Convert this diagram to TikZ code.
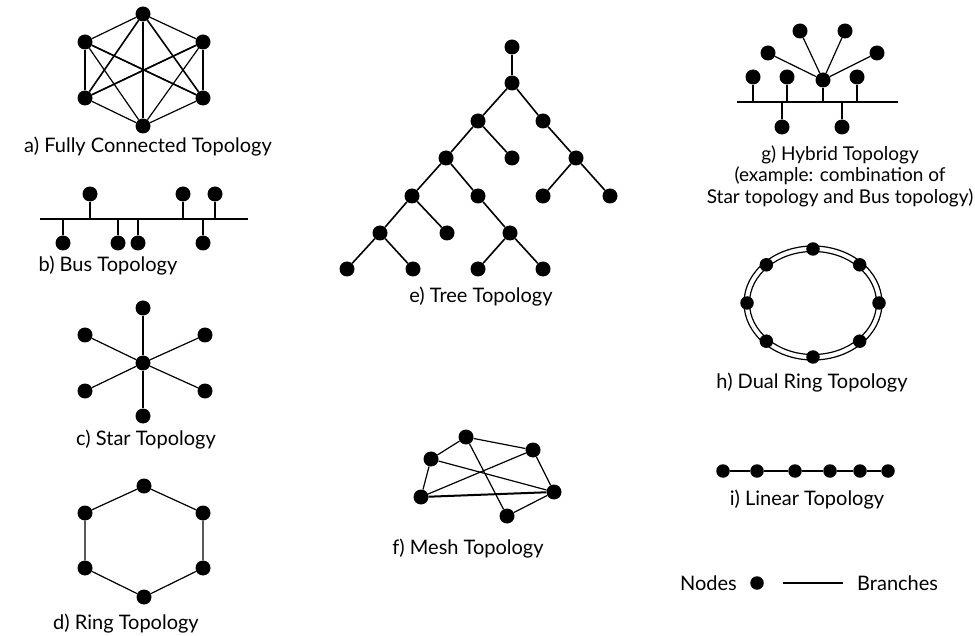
\documentclass[tikz,border=0pt]{standalone}
\usepackage{fontspec}
\setmainfont{Lato}
\begin{document}
\begin{tikzpicture}[x=1pt,y=-1pt,
  dot/.style={circle,fill=black,inner sep=0pt,minimum size=15pt},
  sdot/.style={dot,minimum size=13.5pt},
  link/.style={line width=1.2pt},
  mid/.style={line width=1.6pt},
  heavy/.style={line width=2.6pt},
  lbl/.style={font=\fontsize{20}{21.5}\selectfont,inner sep=0pt,align=center}]
\useasboundingbox[fill=white] (0,0) rectangle (975,636);

% a) fully connected hexagon
\node[dot] (fa) at (143,14) {};
\node[dot] (fb) at (203,42) {};
\node[dot] (fc) at (203,98) {};
\node[dot] (fd) at (143,126) {};
\node[dot] (fe) at (85,98) {};
\node[dot] (ff) at (85,42) {};
\foreach \u/\v in {fa/fb,fb/fc,fc/fd,fd/fe,fe/ff,ff/fa,fb/fe,ff/fc,fb/fd,fd/ff}
  \draw[link] (\u) -- (\v);
\foreach \u/\v in {fa/fc,fa/fe,ff/fc,fe/fb}
  \draw[mid] (\u) -- (\v);
\draw[heavy] (fa) -- (fd);
\node[lbl] (la) at (148,147) {a) Fully Connected Topology};

% b) bus
\coordinate (busL) at (40,219);
\coordinate (busR) at (248,219);
\draw[line width=2pt] (busL) -- (busR);
\node[dot] (bu1) at (90,194) {};
\node[dot] (bu2) at (183,194) {};
\node[dot] (bu3) at (215,194) {};
\node[dot] (bl1) at (63,243) {};
\node[dot] (bl2) at (118,243) {};
\node[dot] (bl3) at (138,243) {};
\node[dot] (bl4) at (203,243) {};
\foreach \n in {bu1,bu2,bu3,bl1,bl2,bl3,bl4}
  \draw[mid] (\n) -- (\n |- busL);
\node[lbl] (lb) at (108,266) {b) Bus Topology};

% c) star
\node[dot] (sc) at (143,363) {};
\node[dot] (sa) at (143,308) {};
\node[dot] (sg) at (143,416) {};
\node[dot] (sb) at (205,335) {};
\node[dot] (sd) at (205,391) {};
\node[dot] (se) at (85,391) {};
\node[dot] (sf) at (85,335) {};
\draw[heavy] (sa) -- (sc) -- (sg);
\foreach \n in {sb,sd,se,sf}
  \draw[link] (sc) -- (\n);
\node[lbl] (lc) at (146,440) {c) Star Topology};

% d) ring
\node[dot] (ra) at (144,486) {};
\node[dot] (rb) at (203,513) {};
\node[dot] (rc) at (203,568) {};
\node[dot] (rd) at (144,597) {};
\node[dot] (re) at (85,568) {};
\node[dot] (rf) at (85,513) {};
\draw[link] (ra) -- (rb) -- (rc) -- (rd) -- (re) -- (rf) -- (ra);
\node[lbl] (ld) at (126,624) {d) Ring Topology};

% e) tree
\node[dot] (t0) at (512,47) {};
\node[dot] (t1) at (512,83) {};
\node[dot] (t2) at (478,121) {};
\node[dot] (t3) at (543,121) {};
\node[dot] (t4) at (446,158) {};
\node[dot] (t5) at (512,158) {};
\node[dot] (t6) at (576,158) {};
\node[dot] (t7) at (543,196) {};
\node[dot] (t8) at (610,196) {};
\node[dot] (t9) at (412,196) {};
\node[dot] (t10) at (478,196) {};
\node[dot] (t11) at (380,233) {};
\node[dot] (t12) at (447,233) {};
\node[dot] (t13) at (510,233) {};
\node[dot] (t14) at (347,269) {};
\node[dot] (t15) at (413,269) {};
\node[dot] (t16) at (478,269) {};
\node[dot] (t17) at (543,269) {};
\foreach \u/\v in {t0/t1,t1/t2,t1/t3,t2/t4,t2/t5,t3/t6,t6/t7,t6/t8,t4/t9,t4/t10,
                   t9/t11,t9/t12,t10/t13,t11/t14,t11/t15,t13/t16,t13/t17}
  \draw[mid] (\u) -- (\v);
\node[lbl] (le) at (481,297) {e) Tree Topology};

% f) mesh
\node[dot] (ma) at (466,437) {};
\node[dot] (mb) at (431,459) {};
\node[dot] (mc) at (421,497) {};
\node[dot] (md) at (533,450) {};
\node[dot] (me) at (554,492) {};
\node[dot] (mf) at (507,516) {};
\foreach \u/\v in {ma/mb,ma/md,ma/mf,mb/mc,mb/me,mc/md,md/me,me/mf}
  \draw[link] (\u) -- (\v);
\draw[line width=2pt] (mc) -- (me);
\node[lbl] (lf) at (468,549) {f) Mesh Topology};

% g) hybrid: star joined to a bus
\coordinate (hbL) at (737,102);
\coordinate (hbR) at (898,102);
\draw[line width=1.6pt] (hbL) -- (hbR);
\node[dot] (gu1) at (753,77) {};
\node[dot] (gu2) at (787,77) {};
\node[dot] (gs) at (823,80) {};
\node[dot] (gu3) at (857,77) {};
\node[dot] (gl1) at (782,127) {};
\node[dot] (gl2) at (842,127) {};
\node[dot] (gp1) at (800,31) {};
\node[dot] (gp2) at (845,31) {};
\node[dot] (gp3) at (768,53) {};
\node[dot] (gp4) at (877,53) {};
\foreach \n in {gu1,gu2,gs,gu3,gl1,gl2}
  \draw[mid] (\n) -- (\n |- hbL);
\foreach \n in {gp1,gp2,gp3,gp4}
  \draw[link] (gs) -- (\n);
\node[lbl,font=\fontsize{19}{21.5}\selectfont] (lg) at (840,176)
  {g) Hybrid Topology\\(example: combination of\\Star topology and Bus topology)};

% h) dual ring
\draw[link] (813,303) ellipse [x radius=69, y radius=57];
\draw[link] (813,303) ellipse [x radius=63.5, y radius=51.5];
\foreach \a [count=\i] in {0,45,...,315}
  \node[sdot] (h\i) at ([shift={(\a:66 and 54)}]813,303) {};
\node[lbl] (lh) at (812,383) {h) Dual Ring Topology};

% i) linear
\node[sdot] (i1) at (723,471) {};
\node[sdot] (i2) at (757,471) {};
\node[sdot] (i3) at (795,471) {};
\node[sdot] (i4) at (830,471) {};
\node[sdot] (i5) at (860,471) {};
\node[sdot] (i6) at (888,471) {};
\draw[link] (i1) -- (i2) -- (i3) -- (i4) -- (i5) -- (i6);
\node[lbl] (li) at (807,500) {i) Linear Topology};

% legend
\node[lbl,anchor=east] (kn) at (737,583) {Nodes};
\node[sdot] (kd) at (757,583) {};
\coordinate (kl1) at (783,583);
\coordinate (kl2) at (843,583);
\draw[link] (kl1) -- (kl2);
\node[lbl,anchor=west] (kb) at (857,583) {Branches};
\end{tikzpicture}
\end{document}
